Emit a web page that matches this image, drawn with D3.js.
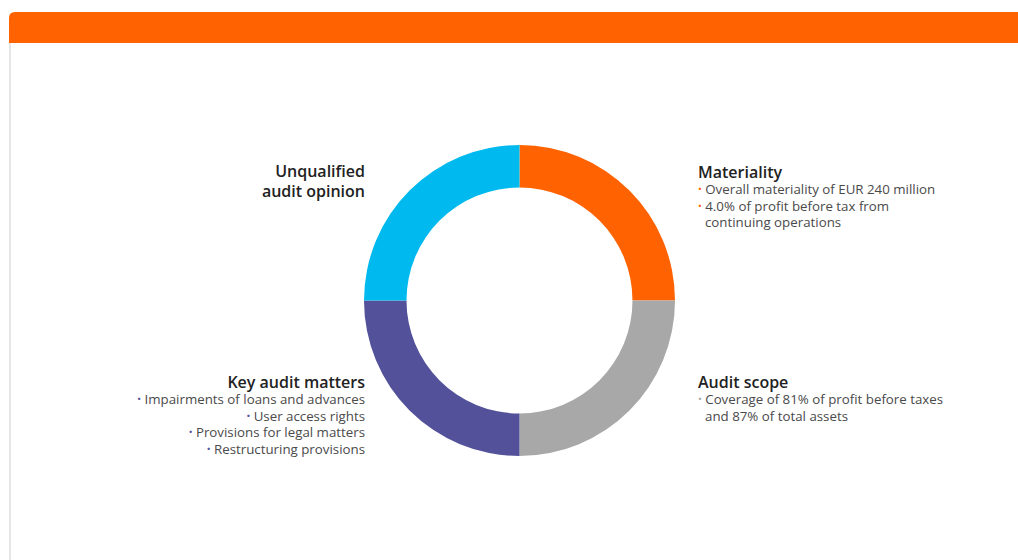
<!DOCTYPE html>
<html>
<head>
<meta charset="utf-8">
<script src="https://cdn.jsdelivr.net/npm/d3@7"></script>
<style>
  body { margin: 0; background: #fff; }
  svg { display: block; font-family: "Open Sans", sans-serif; }
</style>
</head>
<body>
<div id="chart"></div>
<script>
// segments, clockwise from 12 o'clock
var segments = ["Materiality", "Audit scope", "Key audit matters", "Unqualified audit opinion"];
var shares = [25, 25, 25, 25];
var colours = ["#ff6200", "#a8a8a8", "#525199", "#00baef"];

var titles = [["Materiality"], ["Audit scope"], ["Key audit matters"], ["Unqualified", "audit opinion"]];
var bullets = [
  [["Overall materiality of EUR 240 million"], ["4.0% of profit before tax from", "continuing operations"]],
  [["Coverage of 81% of profit before taxes", "and 87% of total assets"]],
  [["Impairments of loans and advances"], ["User access rights"], ["Provisions for legal matters"], ["Restructuring provisions"]],
  []
];

var width = 1018, height = 560;
var cx = 519.5, cy = 300.5, rOuter = 155.5, rInner = 113;

var svg = d3.select("#chart").append("svg")
    .attr("width", width)
    .attr("height", height);

// header bar and frame
svg.append("path")
    .attr("d", "M9,43 V18 Q9,12 15,12 H1018 V43 Z")
    .attr("fill", "#ff6200");
svg.append("rect")
    .attr("x", 9).attr("y", 43)
    .attr("width", 2).attr("height", height - 43)
    .attr("fill", "#e6e6e6");

var pie = d3.pie().sort(null).value(function(d) { return d; });
var arc = d3.arc().innerRadius(rInner).outerRadius(rOuter);

var g = svg.append("g").attr("transform", "translate(" + cx + "," + cy + ")");
g.selectAll("path")
    .data(pie(shares))
    .enter().append("path")
    .attr("d", arc)
    .attr("fill", function(d, i) { return colours[i]; });

// label blocks: [x anchor, title baseline, anchor]
var places = [
  [698, 178, "start"],
  [698, 388, "start"],
  [365, 388, "end"],
  [365, 177, "end"]
];

places.forEach(function(p, i) {
  var t = svg.append("g").attr("class", "label");
  var y = p[1];
  titles[i].forEach(function(line, k) {
    t.append("text")
        .attr("x", p[0]).attr("y", y)
        .attr("text-anchor", p[2])
        .attr("font-size", 16)
        .attr("font-weight", 600)
        .attr("fill", "#222")
        .text(line);
    if (k < titles[i].length - 1) y += 20;
  });
  y += 16;
  bullets[i].forEach(function(item) {
    item.forEach(function(line, k) {
      var tx = t.append("text")
          .attr("x", p[0]).attr("y", y)
          .attr("text-anchor", p[2])
          .attr("font-size", 13.3)
          .attr("fill", "#4a4a4a");
      if (k === 0) {
        tx.append("tspan").attr("fill", colours[i]).attr("font-weight", 700).text("\u00b7 ");
      } else if (p[2] === "start") {
        tx.attr("x", p[0] + 7);
      }
      tx.append("tspan").text(line);
      y += 16.7;
    });
  });
});
</script>
</body>
</html>
